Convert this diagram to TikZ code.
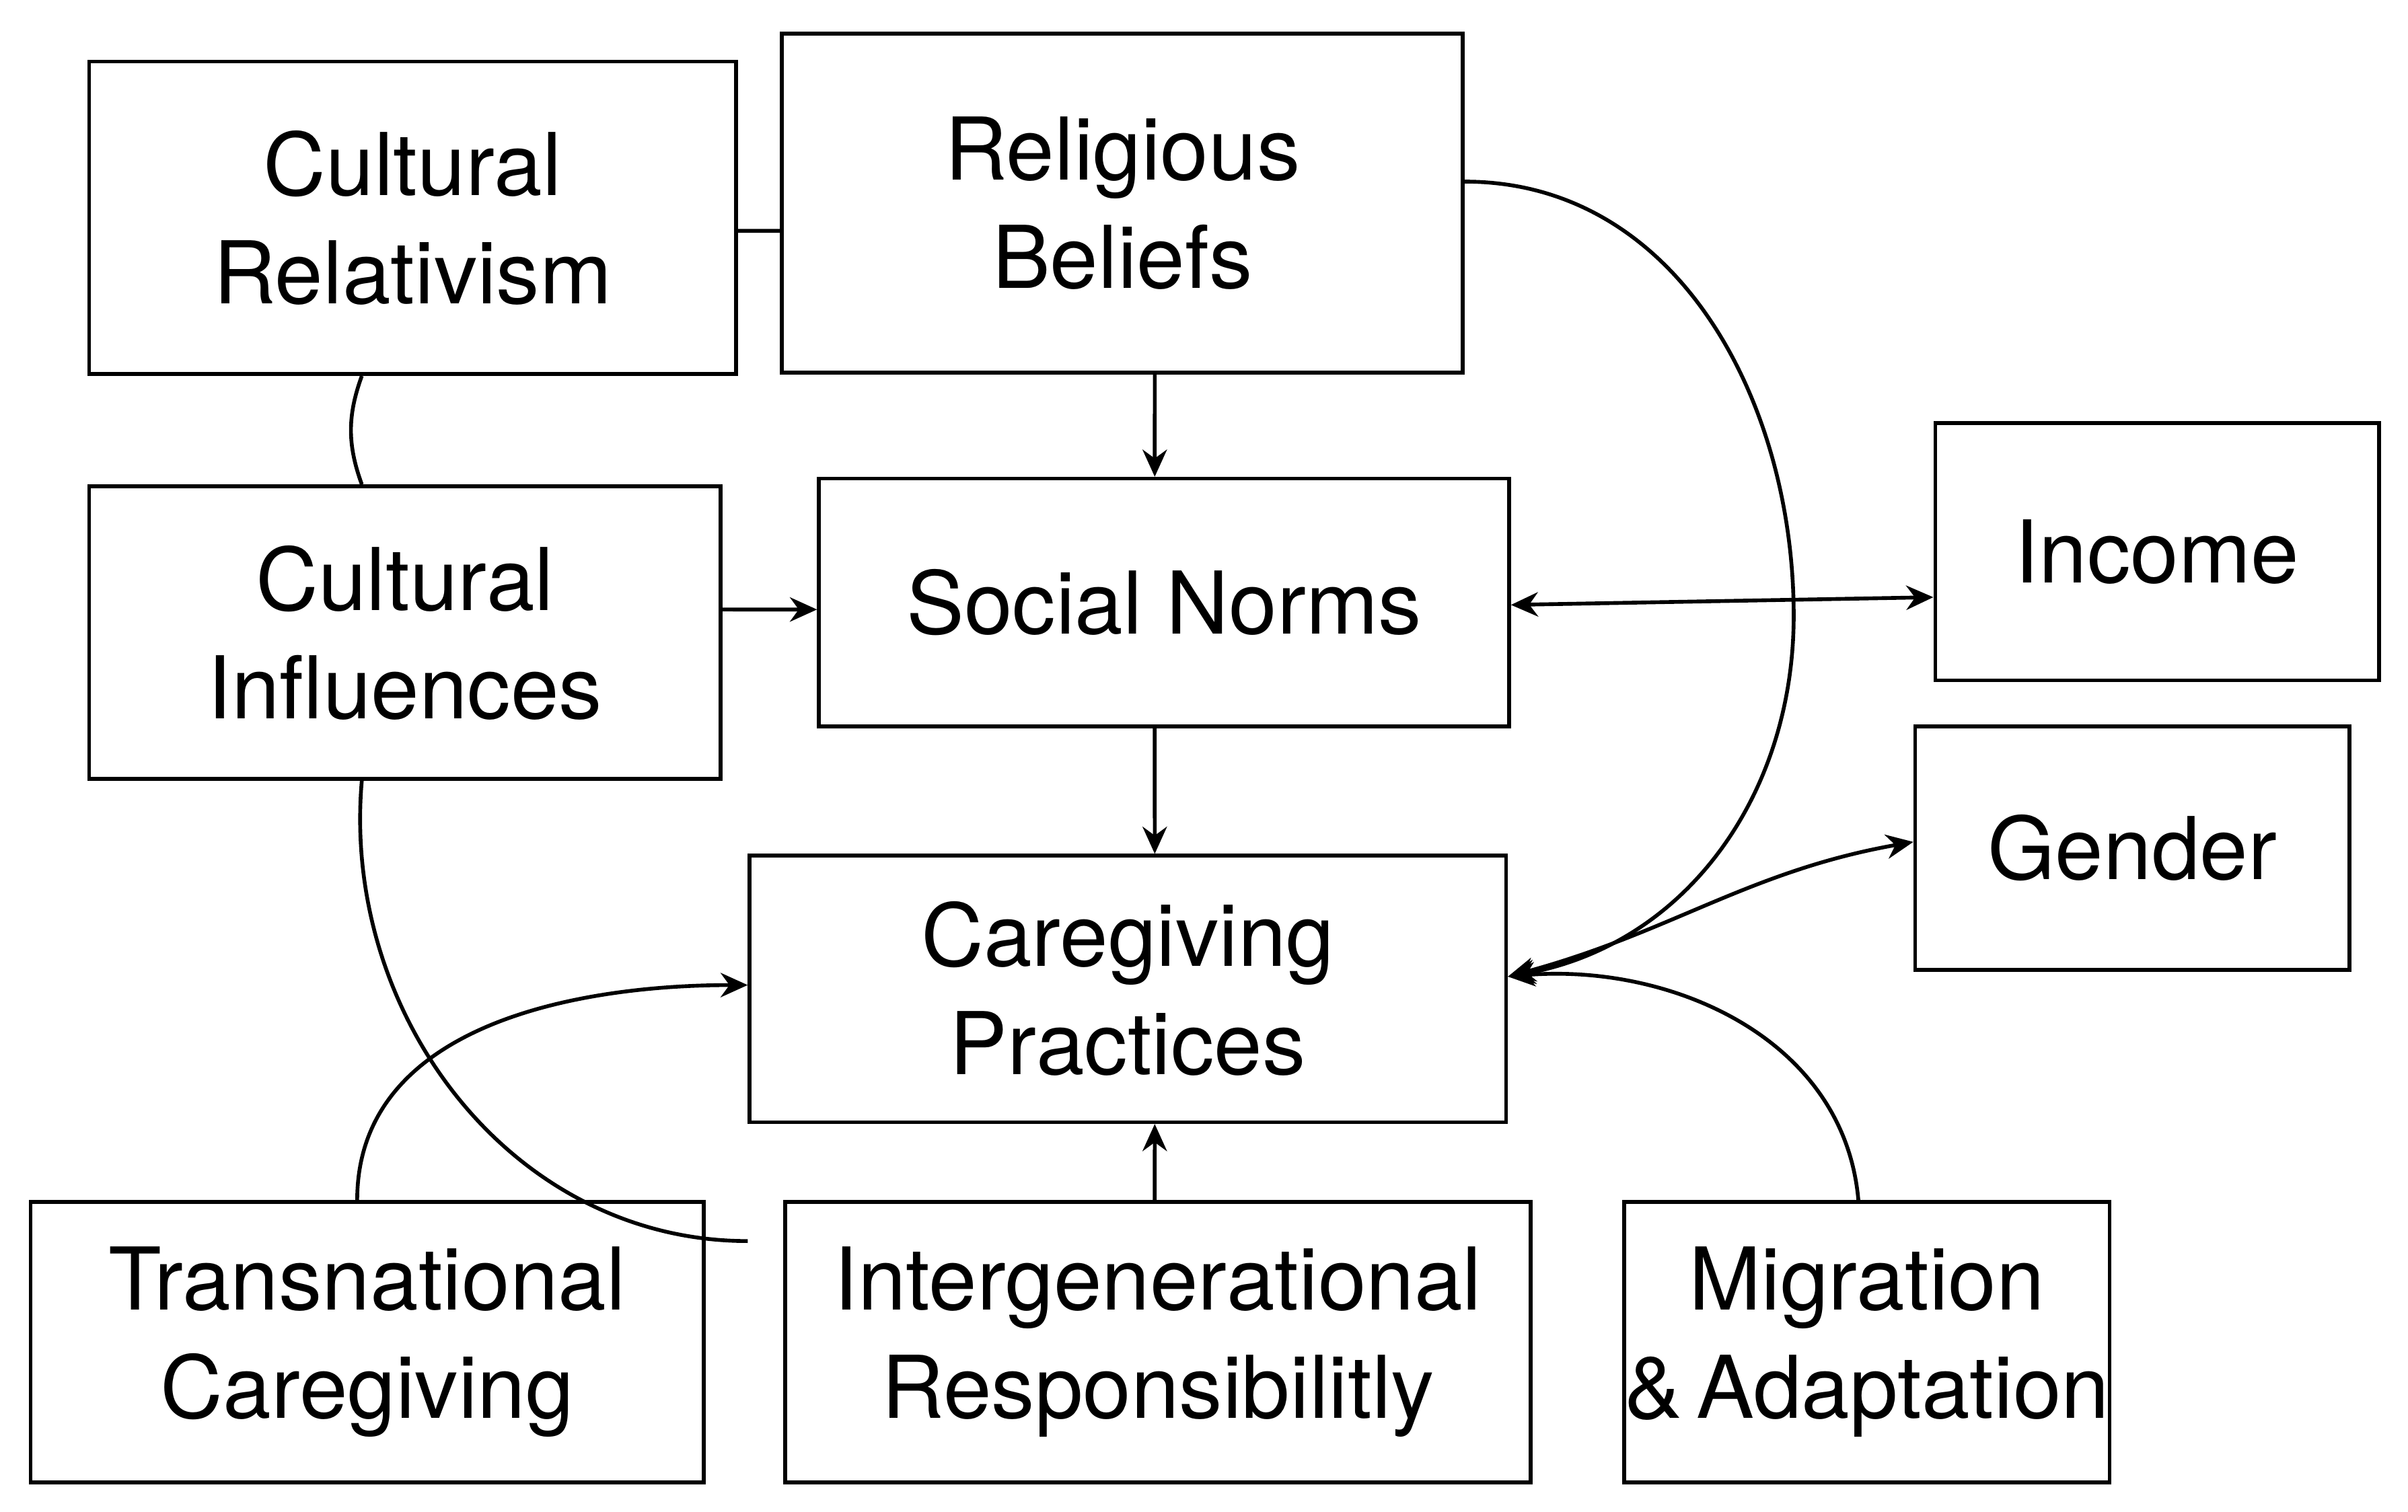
\documentclass[tikz,border=0pt]{standalone}
\usepackage{fontspec}
\setmainfont{TeX Gyre Heros}
\usetikzlibrary{arrows.meta}
\begin{document}
\begin{tikzpicture}[x=0.01cm,y=-0.01cm,
  box/.style={draw,line width=0.7pt,inner sep=0pt,align=center,font=\fontsize{16}{20}\selectfont},
  ln/.style={line width=0.7pt},
  ar/.style={ln,-{Stealth[length=5pt,width=4.5pt]}},
  ba/.style={ln,{Stealth[length=5pt,width=4.5pt]}-{Stealth[length=5pt,width=4.5pt]}}]
\useasboundingbox (0,0) rectangle (1564,982);
\node[box,minimum width=4.2cm,minimum height=2.03cm] (cr) at (268,141.5) {Cultural\\Relativism};
\node[box,minimum width=4.42cm,minimum height=2.2cm] (rb) at (729,132) {Religious\\Beliefs};
\node[box,minimum width=4.1cm,minimum height=1.9cm] (ci) at (263,411) {Cultural\\Influences};
\node[box,minimum width=4.48cm,minimum height=1.61cm] (sn) at (756,391.5) {Social Norms};
\node[box,minimum width=2.88cm,minimum height=1.67cm] (inc) at (1401,358.5) {Income};
\node[box,minimum width=2.82cm,minimum height=1.58cm] (gen) at (1385,551) {Gender};
\node[box,minimum width=4.91cm,minimum height=1.73cm] (cp) at (732.5,642.5) {Caregiving\\Practices};
\node[box,minimum width=4.37cm,minimum height=1.82cm] (tc) at (238.5,872) {Transnational\\Caregiving};
\node[box,minimum width=4.84cm,minimum height=1.82cm] (ir) at (752,872) {Intergenerational\\Responsibilitly};
\node[box,minimum width=3.15cm,minimum height=1.82cm] (ma) at (1212.5,872) {Migration\\\&\,Adaptation};
\coordinate (cpr) at ([yshift=0.08cm]cp.east);
\draw[ln] ([yshift=-0.085cm]cr.east) -- ([yshift=-0.18cm]rb.west);
\draw[ln] ([xshift=-0.33cm]cr.south) to[out=-110,in=110] ([xshift=-0.28cm]ci.north);
\draw[ar] ([xshift=0.21cm]rb.south) -- ([xshift=-0.06cm]sn.north);
\draw[ar] ([yshift=0.15cm]ci.east) -- ([yshift=-0.045cm]sn.west);
\draw[ba] ([yshift=-0.015cm]sn.east) -- ([yshift=-0.295cm]inc.west);
\draw[ar] ([xshift=-0.06cm]sn.south) -- ([xshift=0.175cm]cp.north);
\draw[ar] ([yshift=0.14cm]rb.east) to[out=0,in=90] (1165,400) to[out=-90,in=10] (cpr);
\draw[ba] (cpr) to[out=15,in=190] ([yshift=0.04cm]gen.west);
\draw[ln] ([xshift=-0.28cm]ci.south) to[out=-95,in=180] ([yshift=-0.76cm]cp.south west);
\draw[ar] ([xshift=-0.065cm]tc.north) to[out=90,in=180] ([yshift=0.025cm]cp.west);
\draw[ar] ([xshift=-0.02cm]ir.north) -- ([xshift=0.175cm]cp.south);
\draw[ar] ([xshift=-0.055cm]ma.north) to[out=95,in=5] (cpr);
\end{tikzpicture}
\end{document}
